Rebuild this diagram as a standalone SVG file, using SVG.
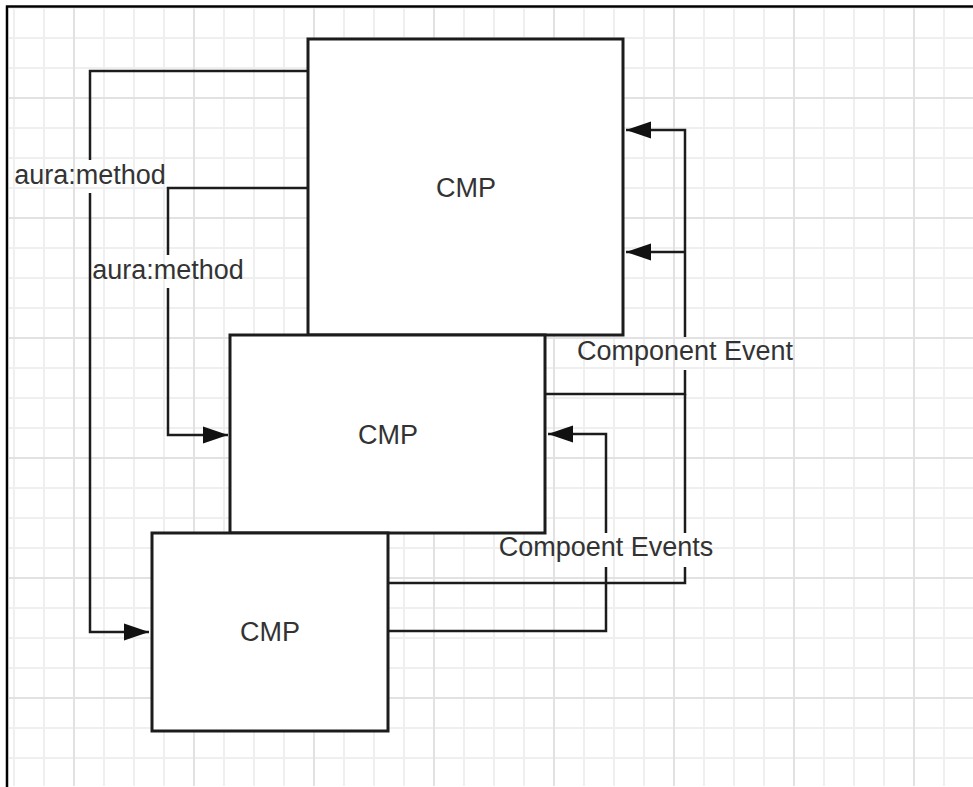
<svg xmlns="http://www.w3.org/2000/svg" width="973" height="787" viewBox="0 0 973 787">
  <defs>
    <pattern id="minor" patternUnits="userSpaceOnUse" x="13" y="7" width="30" height="30">
      <path d="M1 0V30M0 1H30" stroke="#efefef" stroke-width="2" fill="none"/>
    </pattern>
    <pattern id="major" patternUnits="userSpaceOnUse" x="73" y="97" width="120" height="120">
      <path d="M1 0V120M0 1H120" stroke="#e2e2e2" stroke-width="2" fill="none"/>
    </pattern>
    <marker id="arrow" markerUnits="userSpaceOnUse" markerWidth="27" markerHeight="19" viewBox="0 0 27 19" refX="26" refY="9.5" orient="auto">
      <path d="M1 1L26 9.5L1 18Z" fill="#111"/>
    </marker>
    <style>
      .box { fill: #ffffff; stroke: #1c1c1c; stroke-width: 3; }
      .conn { fill: none; stroke: #1c1c1c; stroke-width: 2.5; }
      .lbl { font-family: "Liberation Sans", Arial, sans-serif; font-size: 27px; fill: #333333; text-anchor: middle; }
    </style>
  </defs>

  <rect x="0" y="0" width="973" height="787" fill="#ffffff"/>
  <rect x="9" y="8" width="964" height="778" fill="url(#minor)"/>
  <rect x="9" y="8" width="964" height="778" fill="url(#major)"/>
  <path d="M6 6.5H973M7 5.5V787" stroke="#000" stroke-width="2.5" fill="none"/>

  <g id="cmp-top">
    <rect class="box" x="308" y="39" width="315" height="296"/>
    <text class="lbl" x="466" y="197">CMP</text>
  </g>
  <g id="cmp-middle">
    <rect class="box" x="230" y="335" width="315" height="198"/>
    <text class="lbl" x="388" y="444">CMP</text>
  </g>
  <g id="cmp-bottom">
    <rect class="box" x="152" y="533" width="236" height="198"/>
    <text class="lbl" x="270" y="641">CMP</text>
  </g>

  <g id="connectors">
    <path class="conn" d="M308 71H90V160"/>
    <path class="conn" d="M90 193V632H149" marker-end="url(#arrow)"/>
    <text class="lbl" x="90" y="184">aura:method</text>

    <path class="conn" d="M308 188H168V255"/>
    <path class="conn" d="M168 288V435H228" marker-end="url(#arrow)"/>
    <text class="lbl" x="168" y="279">aura:method</text>

    <path class="conn" d="M545 394H685V370"/>
    <path class="conn" d="M685 337V130H626" marker-end="url(#arrow)"/>
    <path class="conn" d="M685 252H626" marker-end="url(#arrow)"/>
    <text class="lbl" x="685" y="360">Component Event</text>

    <path class="conn" d="M388 583H685V567"/>
    <path class="conn" d="M685 533V394"/>

    <path class="conn" d="M388 631H606V567"/>
    <path class="conn" d="M606 533V434H548" marker-end="url(#arrow)"/>
    <text class="lbl" x="606" y="556">Compoent Events</text>
  </g>
</svg>
